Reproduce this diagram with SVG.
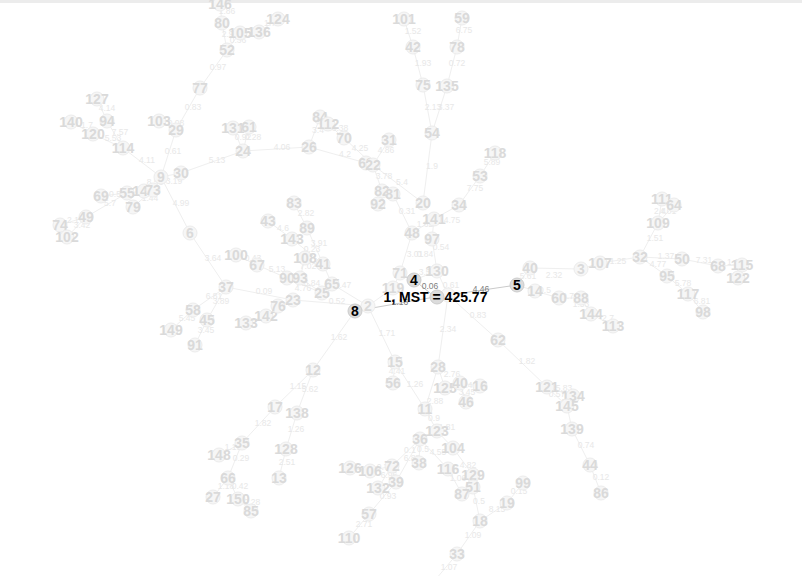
<svg xmlns="http://www.w3.org/2000/svg" width="802" height="576" viewBox="0 0 802 576">
<style>
.e line{stroke:#efefef;stroke-width:1}
.e line.hl{stroke:#cacaca}
.e text{font-family:"Liberation Sans",Arial,sans-serif;font-size:8.5px;fill:#e8e8e8;text-anchor:middle;dominant-baseline:central}
.e text.hl{fill:#808080}
.n circle{fill:#f6f6f6;stroke:#ececec;stroke-width:1}
.n text{font-family:"Liberation Sans",Arial,sans-serif;font-size:14px;font-weight:bold;fill:#dadada;text-anchor:middle;dominant-baseline:central}
.h circle{fill:#dcdcdc;stroke:#cccccc}
.h text{fill:#000}
</style>
<rect x="0" y="0" width="802" height="3" fill="#ececec"/>
<g id="connectors" class="e">
<line x1="220" y1="4" x2="222" y2="23"/><line x1="222" y1="23" x2="227" y2="50"/><line x1="240" y1="33" x2="227" y2="50"/><line x1="259" y1="32" x2="240" y2="33"/><line x1="278" y1="19" x2="259" y2="32"/>
<line x1="227" y1="50" x2="200" y2="88"/><line x1="200" y1="88" x2="176" y2="130"/><line x1="159" y1="121" x2="176" y2="130"/><line x1="176" y1="130" x2="161" y2="177"/>
<line x1="97" y1="99" x2="107" y2="121"/><line x1="107" y1="121" x2="123" y2="148"/><line x1="71" y1="122" x2="93" y2="134"/><line x1="93" y1="134" x2="123" y2="148"/><line x1="123" y1="148" x2="161" y2="177"/>
<line x1="161" y1="177" x2="181" y2="173"/><line x1="161" y1="177" x2="153" y2="190"/><line x1="153" y1="190" x2="144" y2="191"/><line x1="144" y1="191" x2="127" y2="193"/><line x1="127" y1="193" x2="101" y2="196"/><line x1="127" y1="193" x2="86" y2="217"/><line x1="153" y1="190" x2="133" y2="207"/><line x1="86" y1="217" x2="60" y2="225"/><line x1="86" y1="217" x2="67" y2="237"/>
<line x1="181" y1="173" x2="243" y2="151"/><line x1="233" y1="128" x2="243" y2="151"/><line x1="249" y1="127" x2="243" y2="151"/><line x1="243" y1="151" x2="309" y2="147"/>
<line x1="309" y1="147" x2="320" y2="117"/><line x1="320" y1="117" x2="328" y2="124"/><line x1="328" y1="124" x2="344" y2="138"/><line x1="344" y1="138" x2="373" y2="165"/><line x1="309" y1="147" x2="366" y2="163"/>
<line x1="389" y1="140" x2="373" y2="165"/><line x1="373" y1="165" x2="382" y2="191"/><line x1="382" y1="191" x2="378" y2="204"/><line x1="373" y1="165" x2="423" y2="203"/>
<line x1="423" y1="203" x2="432" y2="133"/><line x1="432" y1="133" x2="423" y2="85"/><line x1="432" y1="133" x2="447" y2="86"/><line x1="413" y1="47" x2="423" y2="85"/><line x1="404" y1="19" x2="413" y2="47"/><line x1="462" y1="18" x2="457" y2="47"/><line x1="457" y1="47" x2="447" y2="86"/>
<line x1="495" y1="153" x2="480" y2="176"/><line x1="480" y1="176" x2="459" y2="205"/>
<line x1="382" y1="191" x2="393" y2="194"/><line x1="393" y1="194" x2="412" y2="233"/><line x1="412" y1="233" x2="434" y2="219"/><line x1="434" y1="219" x2="459" y2="205"/><line x1="434" y1="219" x2="432" y2="239"/><line x1="412" y1="233" x2="400" y2="273"/><line x1="432" y1="239" x2="437" y2="271"/><line x1="400" y1="273" x2="393" y2="288"/><line x1="414" y1="280" x2="437" y2="271"/><line x1="437" y1="271" x2="448" y2="295"/>
<line x1="368" y1="306" x2="393" y2="288"/><line x1="368" y1="306" x2="355" y2="311"/>
<line class="hl" x1="355" y1="311" x2="435" y2="297"/><line class="hl" x1="435" y1="297" x2="414" y2="280"/><line class="hl" x1="435" y1="297" x2="517" y2="285"/>
<line x1="368" y1="306" x2="293" y2="300"/><line x1="293" y1="300" x2="226" y2="287"/><line x1="293" y1="300" x2="278" y2="306"/><line x1="278" y1="306" x2="266" y2="316"/><line x1="266" y1="316" x2="246" y2="323"/>
<line x1="332" y1="284" x2="368" y2="306"/><line x1="322" y1="293" x2="332" y2="284"/><line x1="300" y1="278" x2="322" y2="293"/><line x1="287" y1="278" x2="322" y2="293"/><line x1="257" y1="265" x2="287" y2="278"/><line x1="236" y1="255" x2="257" y2="265"/><line x1="305" y1="258" x2="300" y2="278"/>
<line x1="332" y1="284" x2="323" y2="264"/><line x1="307" y1="228" x2="323" y2="264"/><line x1="292" y1="239" x2="323" y2="264"/><line x1="294" y1="203" x2="307" y2="228"/><line x1="268" y1="221" x2="292" y2="239"/>
<line x1="161" y1="177" x2="190" y2="233"/><line x1="190" y1="233" x2="226" y2="287"/><line x1="226" y1="287" x2="193" y2="310"/><line x1="226" y1="287" x2="207" y2="320"/><line x1="193" y1="310" x2="171" y2="330"/><line x1="207" y1="320" x2="195" y2="345"/>
<line x1="355" y1="311" x2="313" y2="370"/><line x1="368" y1="306" x2="395" y2="362"/><line x1="395" y1="362" x2="393" y2="383"/><line x1="395" y1="362" x2="425" y2="409"/>
<line x1="448" y1="295" x2="438" y2="367"/><line x1="448" y1="295" x2="498" y2="340"/>
<line x1="438" y1="367" x2="425" y2="409"/><line x1="438" y1="367" x2="445" y2="388"/><line x1="445" y1="388" x2="460" y2="383"/><line x1="460" y1="383" x2="480" y2="386"/><line x1="460" y1="383" x2="466" y2="402"/>
<line x1="425" y1="409" x2="437" y2="431"/><line x1="437" y1="431" x2="453" y2="448"/><line x1="437" y1="431" x2="420" y2="439"/><line x1="420" y1="439" x2="392" y2="466"/><line x1="420" y1="439" x2="419" y2="463"/><line x1="420" y1="439" x2="396" y2="482"/><line x1="420" y1="439" x2="448" y2="469"/>
<line x1="453" y1="448" x2="473" y2="475"/><line x1="448" y1="469" x2="462" y2="494"/><line x1="473" y1="475" x2="473" y2="487"/><line x1="473" y1="487" x2="480" y2="521"/><line x1="480" y1="521" x2="507" y2="503"/><line x1="507" y1="503" x2="523" y2="483"/><line x1="480" y1="521" x2="457" y2="554"/><line x1="457" y1="554" x2="431" y2="585"/>
<line x1="392" y1="466" x2="370" y2="471"/><line x1="370" y1="471" x2="350" y2="468"/><line x1="392" y1="466" x2="378" y2="488"/><line x1="396" y1="482" x2="369" y2="514"/><line x1="369" y1="514" x2="349" y2="538"/>
<line x1="313" y1="370" x2="275" y2="407"/><line x1="313" y1="370" x2="297" y2="413"/><line x1="297" y1="413" x2="286" y2="449"/><line x1="286" y1="449" x2="279" y2="478"/>
<line x1="275" y1="407" x2="242" y2="443"/><line x1="242" y1="443" x2="219" y2="455"/><line x1="242" y1="443" x2="228" y2="478"/><line x1="228" y1="478" x2="213" y2="497"/><line x1="228" y1="478" x2="238" y2="499"/><line x1="238" y1="499" x2="251" y2="511"/>
<line x1="498" y1="340" x2="547" y2="387"/><line x1="547" y1="387" x2="573" y2="396"/><line x1="547" y1="387" x2="567" y2="406"/><line x1="567" y1="406" x2="572" y2="429"/><line x1="572" y1="429" x2="590" y2="465"/><line x1="590" y1="465" x2="601" y2="493"/>
<line x1="517" y1="285" x2="530" y2="268"/><line x1="517" y1="285" x2="535" y2="291"/><line x1="535" y1="291" x2="559" y2="298"/><line x1="530" y1="268" x2="581" y2="269"/><line x1="581" y1="269" x2="600" y2="263"/><line x1="600" y1="263" x2="640" y2="257"/>
<line x1="640" y1="257" x2="658" y2="223"/><line x1="658" y1="223" x2="662" y2="199"/><line x1="658" y1="223" x2="674" y2="205"/><line x1="640" y1="257" x2="682" y2="259"/><line x1="640" y1="257" x2="667" y2="276"/><line x1="682" y1="259" x2="718" y2="266"/><line x1="718" y1="266" x2="742" y2="265"/><line x1="742" y1="265" x2="738" y2="278"/><line x1="667" y1="276" x2="688" y2="294"/><line x1="688" y1="294" x2="703" y2="312"/>
<line x1="559" y1="298" x2="581" y2="298"/><line x1="581" y1="298" x2="591" y2="314"/><line x1="591" y1="314" x2="613" y2="326"/>
<text x="227" y="11">1.86</text><text x="230" y="34">2.96</text><text x="238" y="40">0.36</text><text x="270" y="23">1.7</text><text x="218" y="67">0.97</text><text x="193" y="107">0.83</text><text x="176" y="123">0.08</text><text x="173" y="151">0.61</text>
<text x="107" y="108">4.14</text><text x="120" y="132">7.57</text><text x="87" y="125">1.7</text><text x="113" y="138">5.53</text><text x="147" y="160">4.11</text><text x="174" y="181">3.19</text><text x="155" y="182">8.56</text>
<text x="115" y="194">0.5</text><text x="110" y="203">5.7</text><text x="150" y="198">1.44</text><text x="73" y="220">2.1</text><text x="82" y="225">3.42</text>
<text x="217" y="160">5.13</text><text x="243" y="137">0.92</text><text x="253" y="137">0.28</text><text x="282" y="147">4.06</text><text x="318" y="130">3.4</text><text x="340" y="128">6.38</text><text x="360" y="148">4.25</text><text x="345" y="154">4.2</text>
<text x="386" y="150">4.86</text><text x="384" y="176">3.78</text><text x="402" y="182">5.4</text><text x="432" y="166">1.9</text><text x="433" y="107">2.13</text><text x="446" y="107">3.37</text><text x="423" y="63">1.93</text><text x="413" y="31">1.52</text><text x="464" y="30">6.75</text><text x="457" y="63">0.72</text>
<text x="492" y="162">5.89</text><text x="475" y="188">7.75</text><text x="407" y="211">0.31</text><text x="425" y="224">1.62</text><text x="452" y="220">4.75</text><text x="441" y="247">0.54</text><text x="415" y="254">3.01</text><text x="425" y="254">0.84</text><text x="427" y="272">3.51</text><text x="451" y="285">0.61</text>
<text x="337" y="301">0.52</text><text x="264" y="291">0.09</text><text x="343" y="285">0.47</text><text x="312" y="283">6.84</text><text x="303" y="288">4.76</text><text x="277" y="269">5.13</text><text x="253" y="258">0.43</text><text x="308" y="266">7.02</text><text x="319" y="243">3.91</text><text x="312" y="249">0.23</text><text x="306" y="213">2.82</text><text x="283" y="228">4.6</text>
<text x="181" y="203">4.99</text><text x="213" y="258">3.64</text><text x="214" y="296">6.81</text><text x="221" y="301">3.89</text><text x="187" y="318">5.45</text><text x="206" y="330">3.45</text>
<text x="339" y="337">1.62</text><text x="387" y="333">1.71</text><text x="397" y="371">4.41</text><text x="415" y="384">1.26</text><text x="448" y="329">2.34</text><text x="478" y="315">0.83</text>
<text x="435" y="401">2.88</text><text x="452" y="374">2.76</text><text x="469" y="385">1.41</text><text x="467" y="392">3.45</text><text x="434" y="418">0.9</text><text x="447" y="427">1.81</text>
<text x="410" y="450">0.1</text><text x="423" y="449">0.5</text><text x="412" y="458">6.88</text><text x="438" y="452">4.55</text><text x="468" y="465">4.82</text><text x="458" y="478">1.06</text><text x="479" y="501">0.5</text><text x="497" y="509">8.15</text><text x="519" y="491">0.15</text><text x="473" y="535">1.09</text><text x="449" y="567">1.07</text>
<text x="385" y="467">0.77</text><text x="389" y="475">6.96</text><text x="388" y="496">0.93</text><text x="364" y="524">2.71</text>
<text x="298" y="386">1.15</text><text x="310" y="389">5.62</text><text x="296" y="429">1.26</text><text x="287" y="462">2.51</text><text x="263" y="423">1.82</text><text x="233" y="447">1.19</text><text x="241" y="458">0.29</text><text x="226" y="486">1.18</text><text x="240" y="486">0.42</text><text x="252" y="502">0.28</text>
<text x="527" y="361">1.82</text><text x="564" y="388">5.83</text><text x="557" y="394">0.57</text><text x="586" y="445">0.74</text><text x="601" y="477">0.12</text>
<text x="528" y="276">5.61</text><text x="545" y="290">0.5</text><text x="554" y="275">2.32</text><text x="618" y="261">1.25</text><text x="655" y="238">1.51</text><text x="660" y="211">2.4</text><text x="668" y="211">4.01</text><text x="666" y="256">1.37</text><text x="658" y="264">4.77</text><text x="704" y="260">7.31</text><text x="733" y="262">1.1</text><text x="683" y="283">5.78</text><text x="702" y="301">6.81</text>
<text x="568" y="296">0.7</text><text x="581" y="304">1.53</text><text x="608" y="318">2.7</text>
<text class="hl" x="400" y="302">1.16</text><text class="hl" x="430" y="286">0.06</text><text class="hl" x="481" y="289">4.46</text>
</g>
<g id="n146" class="n"><circle cx="220" cy="4" r="7"/><text x="220" y="4">146</text></g>
<g id="n80" class="n"><circle cx="222" cy="23" r="7"/><text x="222" y="23">80</text></g>
<g id="n105" class="n"><circle cx="240" cy="33" r="7"/><text x="240" y="33">105</text></g>
<g id="n136" class="n"><circle cx="259" cy="32" r="7"/><text x="259" y="32">136</text></g>
<g id="n124" class="n"><circle cx="278" cy="19" r="7"/><text x="278" y="19">124</text></g>
<g id="n52" class="n"><circle cx="227" cy="50" r="7"/><text x="227" y="50">52</text></g>
<g id="n77" class="n"><circle cx="200" cy="88" r="7"/><text x="200" y="88">77</text></g>
<g id="n127" class="n"><circle cx="97" cy="99" r="7"/><text x="97" y="99">127</text></g>
<g id="n94" class="n"><circle cx="107" cy="121" r="7"/><text x="107" y="121">94</text></g>
<g id="n140" class="n"><circle cx="71" cy="122" r="7"/><text x="71" y="122">140</text></g>
<g id="n120" class="n"><circle cx="93" cy="134" r="7"/><text x="93" y="134">120</text></g>
<g id="n114" class="n"><circle cx="123" cy="148" r="7"/><text x="123" y="148">114</text></g>
<g id="n103" class="n"><circle cx="159" cy="121" r="7"/><text x="159" y="121">103</text></g>
<g id="n29" class="n"><circle cx="176" cy="130" r="7"/><text x="176" y="130">29</text></g>
<g id="n131" class="n"><circle cx="233" cy="128" r="7"/><text x="233" y="128">131</text></g>
<g id="n61" class="n"><circle cx="249" cy="127" r="7"/><text x="249" y="127">61</text></g>
<g id="n24" class="n"><circle cx="243" cy="151" r="7"/><text x="243" y="151">24</text></g>
<g id="n30" class="n"><circle cx="181" cy="173" r="7"/><text x="181" y="173">30</text></g>
<g id="n9" class="n"><circle cx="161" cy="177" r="7"/><text x="161" y="177">9</text></g>
<g id="n147" class="n"><circle cx="144" cy="191" r="7"/><text x="144" y="191">147</text></g>
<g id="n73" class="n"><circle cx="153" cy="190" r="7"/><text x="153" y="190">73</text></g>
<g id="n55" class="n"><circle cx="127" cy="193" r="7"/><text x="127" y="193">55</text></g>
<g id="n69" class="n"><circle cx="101" cy="196" r="7"/><text x="101" y="196">69</text></g>
<g id="n79" class="n"><circle cx="133" cy="207" r="7"/><text x="133" y="207">79</text></g>
<g id="n49" class="n"><circle cx="86" cy="217" r="7"/><text x="86" y="217">49</text></g>
<g id="n74" class="n"><circle cx="60" cy="225" r="7"/><text x="60" y="225">74</text></g>
<g id="n102" class="n"><circle cx="67" cy="237" r="7"/><text x="67" y="237">102</text></g>
<g id="n6" class="n"><circle cx="190" cy="233" r="7"/><text x="190" y="233">6</text></g>
<g id="n37" class="n"><circle cx="226" cy="287" r="7"/><text x="226" y="287">37</text></g>
<g id="n58" class="n"><circle cx="193" cy="310" r="7"/><text x="193" y="310">58</text></g>
<g id="n45" class="n"><circle cx="207" cy="320" r="7"/><text x="207" y="320">45</text></g>
<g id="n149" class="n"><circle cx="171" cy="330" r="7"/><text x="171" y="330">149</text></g>
<g id="n91" class="n"><circle cx="195" cy="345" r="7"/><text x="195" y="345">91</text></g>
<g id="n133" class="n"><circle cx="246" cy="323" r="7"/><text x="246" y="323">133</text></g>
<g id="n142" class="n"><circle cx="266" cy="316" r="7"/><text x="266" y="316">142</text></g>
<g id="n76" class="n"><circle cx="278" cy="306" r="7"/><text x="278" y="306">76</text></g>
<g id="n23" class="n"><circle cx="293" cy="300" r="7"/><text x="293" y="300">23</text></g>
<g id="n100" class="n"><circle cx="236" cy="255" r="7"/><text x="236" y="255">100</text></g>
<g id="n67" class="n"><circle cx="257" cy="265" r="7"/><text x="257" y="265">67</text></g>
<g id="n90" class="n"><circle cx="287" cy="278" r="7"/><text x="287" y="278">90</text></g>
<g id="n93" class="n"><circle cx="300" cy="278" r="7"/><text x="300" y="278">93</text></g>
<g id="n25" class="n"><circle cx="322" cy="293" r="7"/><text x="322" y="293">25</text></g>
<g id="n65" class="n"><circle cx="332" cy="284" r="7"/><text x="332" y="284">65</text></g>
<g id="n108" class="n"><circle cx="305" cy="258" r="7"/><text x="305" y="258">108</text></g>
<g id="n41" class="n"><circle cx="323" cy="264" r="7"/><text x="323" y="264">41</text></g>
<g id="n143" class="n"><circle cx="292" cy="239" r="7"/><text x="292" y="239">143</text></g>
<g id="n89" class="n"><circle cx="307" cy="228" r="7"/><text x="307" y="228">89</text></g>
<g id="n43" class="n"><circle cx="268" cy="221" r="7"/><text x="268" y="221">43</text></g>
<g id="n83" class="n"><circle cx="294" cy="203" r="7"/><text x="294" y="203">83</text></g>
<g id="n26" class="n"><circle cx="309" cy="147" r="7"/><text x="309" y="147">26</text></g>
<g id="n84" class="n"><circle cx="320" cy="117" r="7"/><text x="320" y="117">84</text></g>
<g id="n112" class="n"><circle cx="328" cy="124" r="7"/><text x="328" y="124">112</text></g>
<g id="n70" class="n"><circle cx="344" cy="138" r="7"/><text x="344" y="138">70</text></g>
<g id="n63" class="n"><circle cx="366" cy="163" r="7"/><text x="366" y="163">63</text></g>
<g id="n22" class="n"><circle cx="373" cy="165" r="7"/><text x="373" y="165">22</text></g>
<g id="n31" class="n"><circle cx="389" cy="140" r="7"/><text x="389" y="140">31</text></g>
<g id="n82" class="n"><circle cx="382" cy="191" r="7"/><text x="382" y="191">82</text></g>
<g id="n81" class="n"><circle cx="393" cy="194" r="7"/><text x="393" y="194">81</text></g>
<g id="n92" class="n"><circle cx="378" cy="204" r="7"/><text x="378" y="204">92</text></g>
<g id="n20" class="n"><circle cx="423" cy="203" r="7"/><text x="423" y="203">20</text></g>
<g id="n54" class="n"><circle cx="432" cy="133" r="7"/><text x="432" y="133">54</text></g>
<g id="n75" class="n"><circle cx="423" cy="85" r="7"/><text x="423" y="85">75</text></g>
<g id="n135" class="n"><circle cx="447" cy="86" r="7"/><text x="447" y="86">135</text></g>
<g id="n42" class="n"><circle cx="413" cy="47" r="7"/><text x="413" y="47">42</text></g>
<g id="n101" class="n"><circle cx="404" cy="19" r="7"/><text x="404" y="19">101</text></g>
<g id="n59" class="n"><circle cx="462" cy="18" r="7"/><text x="462" y="18">59</text></g>
<g id="n78" class="n"><circle cx="457" cy="47" r="7"/><text x="457" y="47">78</text></g>
<g id="n118" class="n"><circle cx="495" cy="153" r="7"/><text x="495" y="153">118</text></g>
<g id="n53" class="n"><circle cx="480" cy="176" r="7"/><text x="480" y="176">53</text></g>
<g id="n34" class="n"><circle cx="459" cy="205" r="7"/><text x="459" y="205">34</text></g>
<g id="n141" class="n"><circle cx="434" cy="219" r="7"/><text x="434" y="219">141</text></g>
<g id="n48" class="n"><circle cx="412" cy="233" r="7"/><text x="412" y="233">48</text></g>
<g id="n97" class="n"><circle cx="432" cy="239" r="7"/><text x="432" y="239">97</text></g>
<g id="n71" class="n"><circle cx="400" cy="273" r="7"/><text x="400" y="273">71</text></g>
<g id="n130" class="n"><circle cx="437" cy="271" r="7"/><text x="437" y="271">130</text></g>
<g id="n119" class="n"><circle cx="393" cy="288" r="7"/><text x="393" y="288">119</text></g>
<g id="n2" class="n"><circle cx="368" cy="306" r="7"/><text x="368" y="306">2</text></g>
<g id="nX" class="n"><circle cx="448" cy="295" r="7"/></g>
<g id="n12" class="n"><circle cx="313" cy="370" r="7"/><text x="313" y="370">12</text></g>
<g id="n15" class="n"><circle cx="395" cy="362" r="7"/><text x="395" y="362">15</text></g>
<g id="n56" class="n"><circle cx="393" cy="383" r="7"/><text x="393" y="383">56</text></g>
<g id="n28" class="n"><circle cx="438" cy="367" r="7"/><text x="438" y="367">28</text></g>
<g id="n125" class="n"><circle cx="445" cy="388" r="7"/><text x="445" y="388">125</text></g>
<g id="n40b" class="n"><circle cx="460" cy="383" r="7"/><text x="460" y="383">40</text></g>
<g id="n16" class="n"><circle cx="480" cy="386" r="7"/><text x="480" y="386">16</text></g>
<g id="n46" class="n"><circle cx="466" cy="402" r="7"/><text x="466" y="402">46</text></g>
<g id="n11" class="n"><circle cx="425" cy="409" r="7"/><text x="425" y="409">11</text></g>
<g id="n123" class="n"><circle cx="437" cy="431" r="7"/><text x="437" y="431">123</text></g>
<g id="n36" class="n"><circle cx="420" cy="439" r="7"/><text x="420" y="439">36</text></g>
<g id="n104" class="n"><circle cx="453" cy="448" r="7"/><text x="453" y="448">104</text></g>
<g id="n38" class="n"><circle cx="419" cy="463" r="7"/><text x="419" y="463">38</text></g>
<g id="n116" class="n"><circle cx="448" cy="469" r="7"/><text x="448" y="469">116</text></g>
<g id="n129" class="n"><circle cx="473" cy="475" r="7"/><text x="473" y="475">129</text></g>
<g id="n51" class="n"><circle cx="473" cy="487" r="7"/><text x="473" y="487">51</text></g>
<g id="n87" class="n"><circle cx="462" cy="494" r="7"/><text x="462" y="494">87</text></g>
<g id="n18" class="n"><circle cx="480" cy="521" r="7"/><text x="480" y="521">18</text></g>
<g id="n19" class="n"><circle cx="507" cy="503" r="7"/><text x="507" y="503">19</text></g>
<g id="n99" class="n"><circle cx="523" cy="483" r="7"/><text x="523" y="483">99</text></g>
<g id="n33" class="n"><circle cx="457" cy="554" r="7"/><text x="457" y="554">33</text></g>
<g id="n126" class="n"><circle cx="350" cy="468" r="7"/><text x="350" y="468">126</text></g>
<g id="n106" class="n"><circle cx="370" cy="471" r="7"/><text x="370" y="471">106</text></g>
<g id="n72" class="n"><circle cx="392" cy="466" r="7"/><text x="392" y="466">72</text></g>
<g id="n39" class="n"><circle cx="396" cy="482" r="7"/><text x="396" y="482">39</text></g>
<g id="n132" class="n"><circle cx="378" cy="488" r="7"/><text x="378" y="488">132</text></g>
<g id="n57" class="n"><circle cx="369" cy="514" r="7"/><text x="369" y="514">57</text></g>
<g id="n110" class="n"><circle cx="349" cy="538" r="7"/><text x="349" y="538">110</text></g>
<g id="n17" class="n"><circle cx="275" cy="407" r="7"/><text x="275" y="407">17</text></g>
<g id="n138" class="n"><circle cx="297" cy="413" r="7"/><text x="297" y="413">138</text></g>
<g id="n128" class="n"><circle cx="286" cy="449" r="7"/><text x="286" y="449">128</text></g>
<g id="n13" class="n"><circle cx="279" cy="478" r="7"/><text x="279" y="478">13</text></g>
<g id="n35" class="n"><circle cx="242" cy="443" r="7"/><text x="242" y="443">35</text></g>
<g id="n148" class="n"><circle cx="219" cy="455" r="7"/><text x="219" y="455">148</text></g>
<g id="n66" class="n"><circle cx="228" cy="478" r="7"/><text x="228" y="478">66</text></g>
<g id="n27" class="n"><circle cx="213" cy="497" r="7"/><text x="213" y="497">27</text></g>
<g id="n150" class="n"><circle cx="238" cy="499" r="7"/><text x="238" y="499">150</text></g>
<g id="n85" class="n"><circle cx="251" cy="511" r="7"/><text x="251" y="511">85</text></g>
<g id="n62" class="n"><circle cx="498" cy="340" r="7"/><text x="498" y="340">62</text></g>
<g id="n121" class="n"><circle cx="547" cy="387" r="7"/><text x="547" y="387">121</text></g>
<g id="n134" class="n"><circle cx="573" cy="396" r="7"/><text x="573" y="396">134</text></g>
<g id="n145" class="n"><circle cx="567" cy="406" r="7"/><text x="567" y="406">145</text></g>
<g id="n139" class="n"><circle cx="572" cy="429" r="7"/><text x="572" y="429">139</text></g>
<g id="n44" class="n"><circle cx="590" cy="465" r="7"/><text x="590" y="465">44</text></g>
<g id="n86" class="n"><circle cx="601" cy="493" r="7"/><text x="601" y="493">86</text></g>
<g id="n40a" class="n"><circle cx="530" cy="268" r="7"/><text x="530" y="268">40</text></g>
<g id="n14" class="n"><circle cx="535" cy="291" r="7"/><text x="535" y="291">14</text></g>
<g id="n60" class="n"><circle cx="559" cy="298" r="7"/><text x="559" y="298">60</text></g>
<g id="n88" class="n"><circle cx="581" cy="298" r="7"/><text x="581" y="298">88</text></g>
<g id="n144" class="n"><circle cx="591" cy="314" r="7"/><text x="591" y="314">144</text></g>
<g id="n113" class="n"><circle cx="613" cy="326" r="7"/><text x="613" y="326">113</text></g>
<g id="n3" class="n"><circle cx="581" cy="269" r="7"/><text x="581" y="269">3</text></g>
<g id="n107" class="n"><circle cx="600" cy="263" r="7"/><text x="600" y="263">107</text></g>
<g id="n32" class="n"><circle cx="640" cy="257" r="7"/><text x="640" y="257">32</text></g>
<g id="n109" class="n"><circle cx="658" cy="223" r="7"/><text x="658" y="223">109</text></g>
<g id="n111" class="n"><circle cx="662" cy="199" r="7"/><text x="662" y="199">111</text></g>
<g id="n64" class="n"><circle cx="674" cy="205" r="7"/><text x="674" y="205">64</text></g>
<g id="n50" class="n"><circle cx="682" cy="259" r="7"/><text x="682" y="259">50</text></g>
<g id="n95" class="n"><circle cx="667" cy="276" r="7"/><text x="667" y="276">95</text></g>
<g id="n68" class="n"><circle cx="718" cy="266" r="7"/><text x="718" y="266">68</text></g>
<g id="n115" class="n"><circle cx="742" cy="265" r="7"/><text x="742" y="265">115</text></g>
<g id="n122" class="n"><circle cx="738" cy="278" r="7"/><text x="738" y="278">122</text></g>
<g id="n117" class="n"><circle cx="688" cy="294" r="7"/><text x="688" y="294">117</text></g>
<g id="n98" class="n"><circle cx="703" cy="312" r="7"/><text x="703" y="312">98</text></g>
<g id="n8" class="n h"><circle cx="355" cy="311" r="7"/><text x="355" y="311">8</text></g>
<g id="n4" class="n h"><circle cx="414" cy="280" r="7"/><text x="414" y="280">4</text></g>
<g id="n5" class="n h"><circle cx="517" cy="285" r="7"/><text x="517" y="285">5</text></g>
<g id="n1" class="n h"><circle cx="437" cy="297" r="7"/><text x="435.5" y="297">1, MST = 425.77</text></g>
</svg>
